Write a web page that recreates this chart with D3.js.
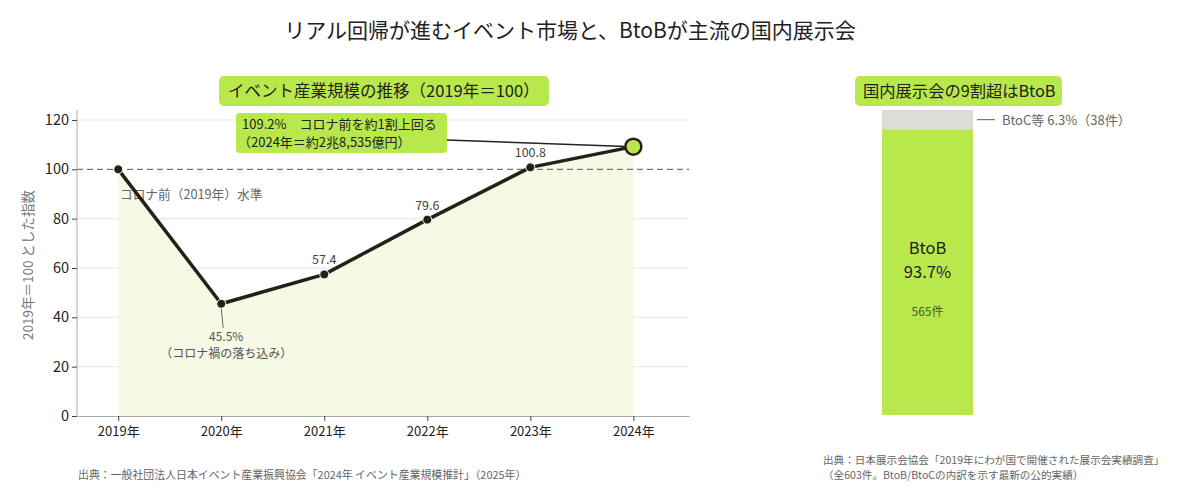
<!DOCTYPE html>
<html>
<head>
<meta charset="utf-8">
<script src="https://cdn.jsdelivr.net/npm/d3@7"></script>
<style>
  body { margin: 0; background: #fff; }
  svg text { font-family: "Noto Sans CJK JP", "Noto Sans", sans-serif; }
</style>
</head>
<body>
<script>
// event market index (2019 = 100)
const years = [2019, 2020, 2021, 2022, 2023, 2024];
const yearLabels = ["2019年", "2020年", "2021年", "2022年", "2023年", "2024年"];
const indexValues = [100, 45.5, 57.4, 79.6, 100.8, 109.2];
const yTicks = [0, 20, 40, 60, 80, 100, 120];

// exhibitions by type (2019)
const exhibitTypes = ["BtoB", "BtoC等"];
const exhibitCounts = [565, 38];
const exhibitShares = [93.7, 6.3];

const green = "#b9e84c";
const W = 1200, H = 504;

const svg = d3.select("body").append("svg")
    .attr("width", W)
    .attr("height", H);

svg.append("text")
    .attr("x", 570).attr("y", 38)
    .attr("text-anchor", "middle")
    .attr("font-size", 21)
    .attr("fill", "#222")
    .text("リアル回帰が進むイベント市場と、BtoBが主流の国内展示会");

// ---------- left: line chart ----------
const x = d3.scaleLinear().domain([2018.6, 2024.54]).range([77, 689]);
const y = d3.scaleLinear().domain([0, 120]).range([416, 120]);

const left = svg.append("g");

// grid
left.append("g")
    .selectAll("line")
    .data(yTicks.filter(d => d > 0 && d !== 100))
    .enter()
    .append("line")
    .attr("x1", 77).attr("x2", 689)
    .attr("y1", d => y(d)).attr("y2", d => y(d))
    .attr("stroke", "#e6e6e6");

const pts = years.map((yr, i) => ({ yr: yr, v: indexValues[i] }));

const area = d3.area()
    .x(d => x(d.yr))
    .y0(y(0))
    .y1(d => y(d.v));

left.append("path")
    .datum(pts)
    .attr("fill", "#f5f8de")
    .attr("opacity", 0.85)
    .attr("d", area);

// 100 reference
left.append("line")
    .attr("x1", 77).attr("x2", 689)
    .attr("y1", y(100)).attr("y2", y(100))
    .attr("stroke", "#777")
    .attr("stroke-width", 1.2)
    .attr("stroke-dasharray", "6,4");

left.append("text")
    .attr("x", 120).attr("y", y(100) + 30)
    .attr("font-size", 12.7)
    .attr("fill", "#666")
    .text("コロナ前（2019年）水準");

// axes
const yAxis = d3.axisLeft(y).tickValues(yTicks).tickSize(5).tickSizeOuter(0);
const yg = left.append("g").attr("transform", "translate(77,0)").call(yAxis);
yg.select(".domain").attr("stroke", "#aaa").attr("d", "M0,110V416");
yg.selectAll(".tick line").attr("stroke", "#444");
yg.selectAll(".tick text").attr("font-size", 14.5).attr("fill", "#222")
    .attr("font-family", "'Noto Sans CJK JP', sans-serif");

const xAxis = d3.axisBottom(x).tickValues(years).tickFormat((d, i) => yearLabels[i]).tickSize(5).tickSizeOuter(0);
const xg = left.append("g").attr("transform", "translate(0,416)").call(xAxis);
xg.select(".domain").attr("stroke", "#aaa");
xg.selectAll(".tick line").attr("stroke", "#444");
xg.selectAll(".tick text").attr("font-size", 13).attr("fill", "#222").attr("dy", "0.95em")
    .attr("font-family", "'Noto Sans CJK JP', sans-serif");

left.append("text")
    .attr("transform", "translate(33," + 265 + ") rotate(-90)")
    .attr("text-anchor", "middle")
    .attr("font-size", 13.5)
    .attr("fill", "#777")
    .text("2019年＝100 とした指数");

// line
const line = d3.line().x(d => x(d.yr)).y(d => y(d.v));
left.append("path")
    .datum(pts)
    .attr("fill", "none")
    .attr("stroke", "#222218")
    .attr("stroke-width", 3.5)
    .attr("stroke-linejoin", "round")
    .attr("d", line);

left.selectAll("circle.pt")
    .data(pts.slice(0, 5))
    .enter()
    .append("circle")
    .attr("class", "pt")
    .attr("cx", d => x(d.yr)).attr("cy", d => y(d.v))
    .attr("r", 4.5)
    .attr("fill", "#222218")
    .attr("stroke", "#fff")
    .attr("stroke-width", 1);

// value labels above 2021-2023
left.selectAll("text.val")
    .data(pts.slice(2, 5))
    .enter()
    .append("text")
    .attr("class", "val")
    .attr("x", d => x(d.yr)).attr("y", d => y(d.v) - 10)
    .attr("text-anchor", "middle")
    .attr("font-size", 12.5)
    .attr("fill", "#444")
    .text(d => d.v.toFixed(1));

// 2020 low callout
const low = pts[1];
left.append("line")
    .attr("x1", x(low.yr)).attr("y1", y(low.v) + 5)
    .attr("x2", x(low.yr) + 2).attr("y2", y(low.v) + 24)
    .attr("stroke", "#666").attr("stroke-width", 1);
left.append("text")
    .attr("x", x(low.yr) + 5).attr("y", y(low.v) + 37)
    .attr("text-anchor", "middle")
    .attr("font-size", 12).attr("fill", "#555")
    .text(low.v.toFixed(1) + "%");
left.append("text")
    .attr("x", x(low.yr) + 5).attr("y", y(low.v) + 54)
    .attr("text-anchor", "middle")
    .attr("font-size", 12).attr("fill", "#555")
    .text("（コロナ禍の落ち込み）");

// 2024 callout
const last = pts[5];
left.append("line")
    .attr("x1", 447).attr("y1", 140)
    .attr("x2", x(last.yr)).attr("y2", y(last.v))
    .attr("stroke", "#222").attr("stroke-width", 1.5);
left.append("rect")
    .attr("x", 236).attr("y", 113)
    .attr("width", 211).attr("height", 40)
    .attr("rx", 4)
    .attr("fill", green);
left.append("text")
    .attr("x", 242).attr("y", 129)
    .attr("font-size", 13).attr("fill", "#222")
    .text(last.v.toFixed(1) + "%　コロナ前を約1割上回る");
left.append("text")
    .attr("x", 238).attr("y", 147)
    .attr("font-size", 13).attr("fill", "#222")
    .text("（2024年＝約2兆8,535億円）");

left.append("circle")
    .attr("cx", x(last.yr)).attr("cy", y(last.v))
    .attr("r", 8)
    .attr("fill", green)
    .attr("stroke", "#222218")
    .attr("stroke-width", 2.5);

// chart title box
left.append("rect")
    .attr("x", 219).attr("y", 76)
    .attr("width", 330).attr("height", 30)
    .attr("rx", 5)
    .attr("fill", green);
left.append("text")
    .attr("x", 228).attr("y", 97)
    .attr("font-size", 16.5).attr("fill", "#222")
    .text("イベント産業規模の推移（2019年＝100）");

left.append("text")
    .attr("x", 78).attr("y", 479)
    .attr("font-size", 10.9).attr("fill", "#666")
    .text("出典：一般社団法人日本イベント産業振興協会「2024年 イベント産業規模推計」（2025年）");

// ---------- right: stacked bar ----------
const right = svg.append("g");
const total = d3.sum(exhibitCounts);
const yb = d3.scaleLinear().domain([0, total]).range([415, 110]);
const bx = 882, bw = 91;

const segs = [];
let acc = 0;
exhibitTypes.forEach((t, i) => {
    segs.push({ type: t, n: exhibitCounts[i], share: exhibitShares[i], y0: acc, y1: acc + exhibitCounts[i] });
    acc += exhibitCounts[i];
});

right.selectAll("rect.seg")
    .data(segs)
    .enter()
    .append("rect")
    .attr("class", "seg")
    .attr("x", bx).attr("width", bw)
    .attr("y", d => yb(d.y1))
    .attr("height", d => yb(d.y0) - yb(d.y1))
    .attr("fill", (d, i) => i === 0 ? green : "#dedcd8");

const b2b = segs[0];
const cx = bx + bw / 2;
right.append("text")
    .attr("x", cx).attr("y", 254)
    .attr("text-anchor", "middle")
    .attr("font-size", 16.5).attr("fill", "#222")
    .text(b2b.type);
right.append("text")
    .attr("x", cx).attr("y", 278)
    .attr("text-anchor", "middle")
    .attr("font-size", 16.5).attr("fill", "#222")
    .text(b2b.share.toFixed(1) + "%");
right.append("text")
    .attr("x", cx).attr("y", 316)
    .attr("text-anchor", "middle")
    .attr("font-size", 12).attr("fill", "#4a5a2a")
    .text(b2b.n + "件");

const b2c = segs[1];
const my = (yb(b2c.y0) + yb(b2c.y1)) / 2;
right.append("line")
    .attr("x1", 977).attr("x2", 995)
    .attr("y1", my).attr("y2", my)
    .attr("stroke", "#777").attr("stroke-width", 1.2);
right.append("text")
    .attr("x", 1002).attr("y", my + 5)
    .attr("font-size", 13).attr("fill", "#666")
    .text(b2c.type + " " + b2c.share.toFixed(1) + "%（" + b2c.n + "件）");

right.append("rect")
    .attr("x", 855).attr("y", 76)
    .attr("width", 207).attr("height", 30)
    .attr("rx", 5)
    .attr("fill", green);
right.append("text")
    .attr("x", 863).attr("y", 97)
    .attr("font-size", 16.3).attr("fill", "#222")
    .text("国内展示会の9割超はBtoB");

right.append("text")
    .attr("x", 823).attr("y", 464)
    .attr("font-size", 10.6).attr("fill", "#666")
    .text("出典：日本展示会協会「2019年にわが国で開催された展示会実績調査」");
right.append("text")
    .attr("x", 823).attr("y", 479)
    .attr("font-size", 10.6).attr("fill", "#666")
    .text("（全603件。BtoB/BtoCの内訳を示す最新の公的実績）");
</script>
</body>
</html>
